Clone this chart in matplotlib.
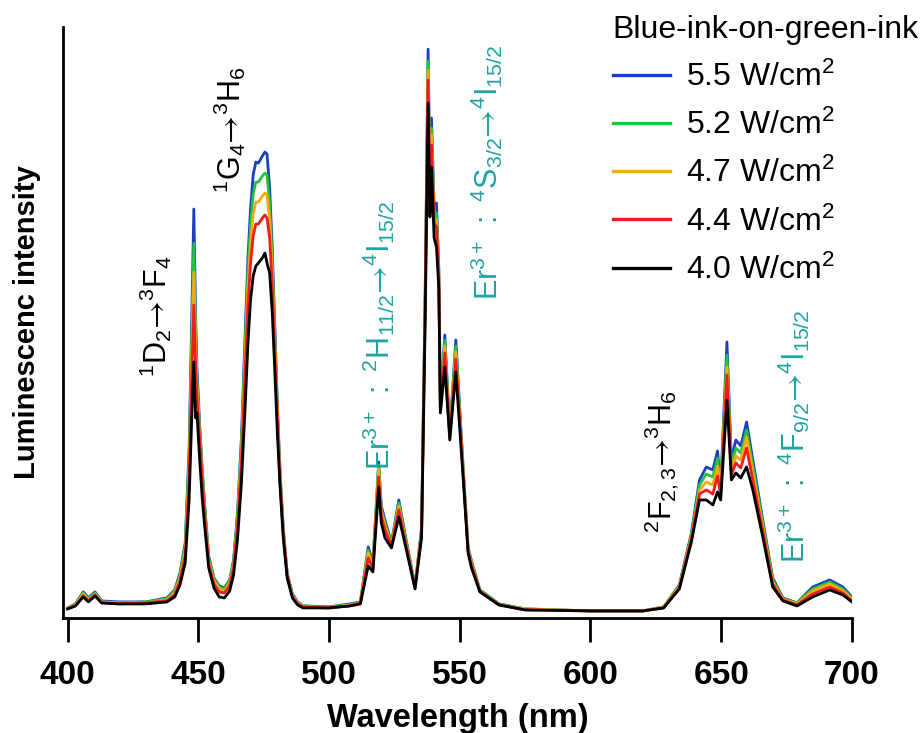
import matplotlib
matplotlib.use("Agg")
import matplotlib.pyplot as plt

plt.rcParams['font.family'] = ['Liberation Sans', 'DejaVu Sans']
plt.rcParams['mathtext.fontset'] = 'custom'
plt.rcParams['mathtext.rm'] = 'Liberation Sans'
plt.rcParams['mathtext.it'] = 'Liberation Sans:italic'
plt.rcParams['mathtext.bf'] = 'Liberation Sans:bold'
plt.rcParams['mathtext.sf'] = 'STIXGeneral'

# Spectra (intensity in arbitrary units)
wavelength = [400, 403, 406, 408, 410.5, 413, 420, 430, 438, 441, 443, 445, 446.5, 447.5,
              448.3, 449.0, 449.5, 450.5, 451.5, 452.5, 454, 456, 458,
              460, 462, 463.5, 465, 466.5, 468, 469, 470, 471, 472, 473, 474.5, 475.5, 476.3,
              477.3, 478.3, 479.3, 480.3, 481.3, 482.5, 484, 486, 488, 490,
              500, 508, 512, 515, 516.8, 519, 520, 521.4, 523.9, 526.7, 529, 532.9, 535.4,
              536.8, 537.9, 538.6, 539.2, 540.2, 541.1, 542, 542.6, 544.3, 546.2, 548.5,
              551.3, 553.2, 554.5, 557.7, 565, 575, 600, 620, 628, 634, 638.6, 641.7, 644.3,
              646.8, 648.6, 649.8, 652.2, 653.9, 655.6, 657.5, 659.7, 662.1, 665.9, 669.7,
              673.6, 679, 685, 691.5, 696.5, 700]

int_55 = [10, 14, 26, 20, 26, 17, 16, 16, 20, 28, 45, 75, 170, 300,
          409, 300, 250, 195, 150, 111, 62, 40, 32,
          30, 38, 58, 105, 180, 290, 360, 410, 443, 456, 455, 462, 466, 464,
          430, 370, 290, 210, 145, 90, 45, 24, 16, 12,
          11, 14, 16, 71, 55, 156, 112, 98, 75, 118, 85, 32, 90,
          330, 569, 440, 500, 410, 415, 350, 210, 283, 185, 278,
          151, 70, 57, 28, 14, 9, 7, 7, 11, 33, 85, 138, 151,
          148, 167, 131, 276, 158, 178, 172, 196, 158, 98, 40,
          20, 15, 31, 38, 31, 21]

int_52 = [10, 13, 25, 19, 25, 16, 15, 16, 19, 27, 43, 72, 160, 280,
          375, 285, 240, 190, 146, 108, 60, 39, 31,
          29, 37, 56, 101, 173, 278, 345, 393, 424, 436, 436, 442, 445, 443,
          414, 358, 282, 205, 142, 88, 44, 23, 15, 12,
          11, 13, 16, 68, 53, 153, 109, 95, 74, 115, 83, 31, 88,
          325, 557, 435, 490, 405, 405, 345, 209, 278, 183, 272,
          149, 69, 56, 28, 14, 9, 7, 7, 11, 32, 83, 133, 144,
          141, 160, 128, 263, 153, 170, 165, 188, 152, 95, 38,
          19, 15, 29, 36, 29, 20]

int_47 = [10, 13, 24, 18, 24, 16, 15, 15, 18, 25, 40, 67, 150, 262,
          346, 270, 230, 185, 142, 104, 57, 37, 29,
          27, 35, 53, 96, 164, 265, 330, 375, 404, 416, 416, 422, 425, 423,
          398, 346, 274, 200, 139, 86, 43, 22, 15, 11,
          10, 13, 15, 65, 51, 149, 106, 92, 73, 112, 81, 31, 86,
          320, 548, 430, 483, 400, 398, 342, 208, 272, 181, 266,
          147, 68, 55, 27, 13, 9, 7, 7, 11, 31, 81, 128, 136,
          133, 152, 126, 251, 148, 162, 158, 181, 146, 91, 36,
          19, 14, 27, 34, 27, 19]

int_44 = [9, 12, 22, 17, 23, 15, 14, 15, 17, 23, 37, 62, 138, 240,
          313, 250, 220, 180, 138, 100, 54, 34, 26,
          25, 32, 50, 90, 154, 250, 312, 355, 382, 394, 394, 400, 403, 400,
          380, 333, 265, 195, 136, 84, 42, 21, 14, 11,
          10, 12, 15, 60, 49, 141, 102, 88, 72, 108, 79, 30, 84,
          312, 538, 420, 473, 395, 391, 338, 207, 265, 180, 259,
          145, 67, 53, 27, 13, 8, 7, 7, 10, 30, 79, 124, 128,
          124, 142, 122, 243, 143, 155, 150, 170, 138, 87, 34,
          18, 13, 24, 31, 25, 17]

int_40 = [9, 12, 21, 16, 22, 15, 14, 14, 16, 21, 33, 55, 118, 200,
          256, 200, 205, 160, 120, 90, 50, 30, 21,
          20, 27, 43, 78, 135, 215, 275, 318, 342, 352, 355, 360, 365, 355,
          345, 305, 245, 182, 130, 80, 40, 20, 13, 10,
          10, 12, 14, 52, 46, 131, 95, 80, 70, 101, 75, 29, 80,
          300, 515, 401, 451, 380, 371, 330, 205, 251, 178, 246,
          140, 65, 50, 26, 13, 8, 7, 7, 10, 29, 76, 118, 118,
          113, 126, 118, 218, 138, 145, 140, 151, 128, 81, 31,
          17, 12, 21, 28, 23, 16]

series = [int_55, int_52, int_47, int_44, int_40]
labels = ['5.5 W/cm$^2$', '5.2 W/cm$^2$', '4.7 W/cm$^2$', '4.4 W/cm$^2$', '4.0 W/cm$^2$']
colors = ['#1a3fc0', '#22c43a', '#f2aa10', '#ee1c1c', '#000000']

teal = '#1fa3a3'

fig = plt.figure(figsize=(9.24, 7.33), dpi=100)
ax = fig.add_axes([0.068, 0.157, 0.854, 0.806])

for y, lab, c in zip(series, labels, colors):
    ax.plot(wavelength, y, color=c, lw=2.0, label=lab, solid_joinstyle='round')

ax.set_xlim(398.2, 700)
ax.set_ylim(0, 591)
ax.set_xticks([400, 450, 500, 550, 600, 650, 700])
ax.set_yticks([])
for s in ['top', 'right']:
    ax.spines[s].set_visible(False)
for s in ['left', 'bottom']:
    ax.spines[s].set_linewidth(2)
ax.tick_params(axis='x', length=17, width=2, direction='out', pad=13, labelsize=24)
for lab in ax.get_xticklabels():
    lab.set_fontweight('bold')
ax.set_xlabel('Wavelength (nm)', fontsize=23.5, fontweight='bold', labelpad=9)
ax.set_ylabel('Luminescenc intensity', fontsize=21, fontweight='bold', labelpad=16)

# transition labels
fs = 22
arrow = r'\mathsf{→}'
ax.text(433.8, 241, r'$^{1}\mathrm{D}_{2}' + arrow + r'{}^{3}\mathrm{F}_{4}$',
        rotation=90, ha='center', va='bottom', fontsize=fs, color='black')
ax.text(462.1, 425, r'$^{1}\mathrm{G}_{4}' + arrow + r'{}^{3}\mathrm{H}_{6}$',
        rotation=90, ha='center', va='bottom', fontsize=fs, color='black')
ax.text(519.1, 148, r'$\mathrm{Er}^{3+}\ \mathrm{:}\ {}^{2}\mathrm{H}_{11/2}' + arrow + r'{}^{4}\mathrm{I}_{15/2}$',
        rotation=90, ha='center', va='bottom', fontsize=fs, color=teal)
ax.text(560.4, 318, r'$\mathrm{Er}^{3+}\ \mathrm{:}\ {}^{4}\mathrm{S}_{3/2}' + arrow + r'{}^{4}\mathrm{I}_{15/2}$',
        rotation=90, ha='center', va='bottom', fontsize=fs, color=teal)
ax.text(627.3, 85, r'$^{2}\mathrm{F}_{2,3}' + arrow + r'{}^{3}\mathrm{H}_{6}$',
        rotation=90, ha='center', va='bottom', fontsize=fs, color='black')
ax.text(677.6, 55, r'$\mathrm{Er}^{3+}\ \mathrm{:}\ {}^{4}\mathrm{F}_{9/2}' + arrow + r'{}^{4}\mathrm{I}_{15/2}$',
        rotation=90, ha='center', va='bottom', fontsize=fs, color=teal)

leg = ax.legend(loc='upper left', bbox_to_anchor=(0.663, 0.98), bbox_transform=fig.transFigure,
                frameon=False, title='Blue-ink-on-green-ink', title_fontsize=23, fontsize=23,
                alignment='left', borderaxespad=0, borderpad=0, handlelength=1.8,
                handletextpad=0.5, labelspacing=0.53)
for line in leg.get_lines():
    line.set_linewidth(2.4)

fig.savefig('out.png', dpi=100)
